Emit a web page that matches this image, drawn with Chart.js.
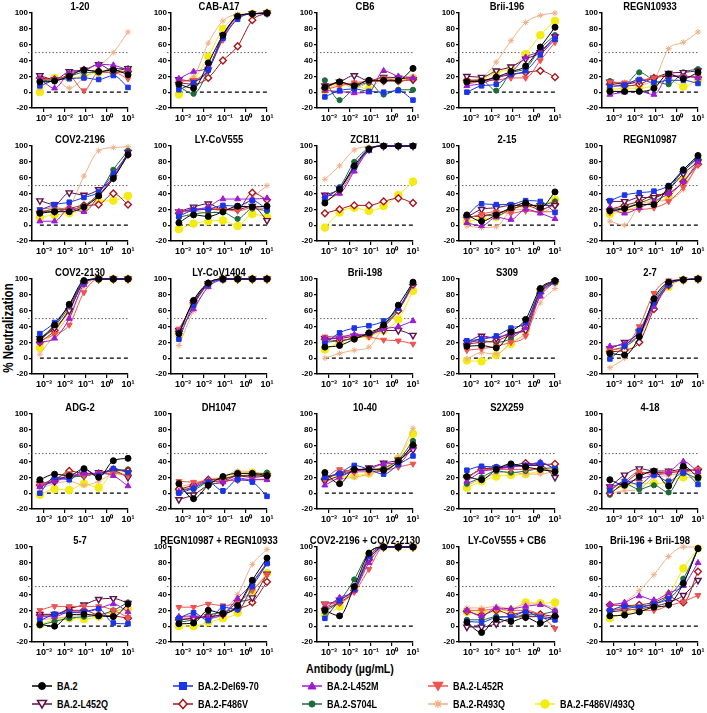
<!DOCTYPE html>
<html>
<head>
<meta charset="utf-8">
<script src="https://cdn.jsdelivr.net/npm/chart.js@4.4.1/dist/chart.umd.min.js"></script>
<style>
    body { margin: 0; background: #fff; }
    #figure { position: relative; width: 707px; height: 713px; overflow: hidden; background: #fff;
              font-family: 'Liberation Sans', Arial, sans-serif; font-weight: bold; color: #000; }
    .panel { position: absolute; width: 150px; height: 127px; }
    #ytitle { position: absolute; left: 8px; top: 328px; transform: translate(-50%, -50%) rotate(-90deg) scaleX(0.82);
              font-size: 14px; line-height: 14px; white-space: nowrap; }
    #xtitle { position: absolute; left: 350px; top: 668px; transform: translate(-50%, -50%) scaleX(0.82); font-size: 13px; white-space: nowrap; }
    .item { position: absolute; display: flex; align-items: center; white-space: nowrap; transform: translateY(-50%); }
    .item span { display: inline-block; font-size: 11px; transform: scaleX(0.82); transform-origin: left center; }
    .item svg { margin-right: 5px; }
</style>
</head>
<body>
<div id="figure">
    <div id="ytitle">% Neutralization</div>
    <div id="xtitle">Antibody (µg/mL)</div>
</div>
<script>
// Antibody concentrations (µg/mL), 5-fold dilutions
const concentrations = [0.00064, 0.0032, 0.016, 0.08, 0.4, 2, 10];
const xTickValues = [0.001, 0.01, 0.1, 1, 10];
const xTickLabels = ['10⁻³', '10⁻²', '10⁻¹', '10⁰', '10¹'];

const variantNames = ['BA.2', 'BA.2-Del69-70', 'BA.2-L452M', 'BA.2-L452R', 'BA.2-L452Q',
    'BA.2-F486V', 'BA.2-S704L', 'BA.2-R493Q', 'BA.2-F486V/493Q'];

const antibodyNames = ['1-20', 'CAB-A17', 'CB6', 'Brii-196', 'REGN10933',
    'COV2-2196', 'LY-CoV555', 'ZCB11', '2-15', 'REGN10987',
    'COV2-2130', 'LY-CoV1404', 'Brii-198', 'S309', '2-7',
    'ADG-2', 'DH1047', '10-40', 'S2X259', '4-18',
    '5-7', 'REGN10987 + REGN10933', 'COV2-2196 + COV2-2130', 'LY-CoV555 + CB6', 'Brii-196 + Brii-198'];

// % neutralization, one row per variant (same order as variantNames)
const ab1_20 = [
    [13, 14, 20, 28, 26, 28, 22], [8, 15, 17, 18, 16, 21, 6], [17, 5, 24, 27, 35, 34, 28],
    [16, 16, 20, 2, 25, 25, 17], [21, 16, 26, 28, 35, 27, 30], [18, 16, 22, 28, 26, 25, 26],
    [14, 16, 20, 25, 25, 30, 30], [5, 17, 5, 18, 32, 50, 76], [0, 18, 18, 20, 25, 25, 28]];
const abCabA17 = [
    [10, 5, 37, 72, 96, 99, 100], [3, 12, 28, 68, 92, 99, 99], [17, 26, 32, 70, 95, 99, 100],
    [14, 15, 30, 66, 94, 99, 100], [16, 14, 28, 72, 95, 99, 100], [12, 10, 18, 40, 58, 91, 100],
    [7, -2, 28, 72, 95, 99, 100], [13, 20, 62, 90, 98, 99, 100], [-3, 15, 45, 80, 96, 99, 100]];
const abCb6 = [
    [6, 13, 8, 15, 15, 15, 30], [-6, 2, 4, 1, 0, 2, -10], [2, 1, -1, 0, 27, 20, 18],
    [3, 8, 12, 14, 18, 14, 17], [8, 13, 21, 14, 19, 18, 16], [5, 12, 10, 14, 14, 14, 16],
    [15, -10, 5, 12, -3, 3, 3], [10, 12, 5, 12, 15, 19, 20], [2, 10, 8, 4, 17, 15, 18]];
const abBrii196 = [
    [13, 14, 19, 26, 33, 57, 82], [0, 8, 10, 22, 27, 47, 67], [8, 11, 18, 25, 44, 52, 70],
    [10, 14, 15, 18, 18, 40, 63], [20, 19, 27, 32, 42, 50, 70], [15, 15, 19, 22, 25, 27, 19],
    [12, 15, 2, 24, 30, 55, 72], [15, 18, 38, 65, 88, 97, 100], [14, 16, 25, 30, 48, 72, 90]];
const abRegn10933 = [
    [1, 1, 1, 5, 23, 17, 25], [7, 9, 16, 12, 15, 15, 11], [-3, 0, 1, -3, 20, 20, 18],
    [13, 12, 15, 18, 22, 20, 20], [13, 10, 14, 18, 24, 25, 27], [10, 8, 10, 18, 20, 20, 19],
    [14, 10, 25, 15, 10, 25, 29], [10, 12, 10, 16, 55, 63, 76], [3, 5, 5, 8, 16, 7, 15]];
const abCov2196 = [
    [15, 17, 17, 23, 37, 59, 89], [19, 26, 29, 35, 42, 65, 90], [5, 5, 21, 17, 37, 62, 90],
    [20, 22, 20, 24, 38, 60, 88], [31, 26, 41, 38, 45, 60, 92], [17, 17, 21, 25, 26, 40, 26],
    [16, 20, 20, 25, 40, 70, 94], [18, 20, 25, 62, 94, 98, 99], [10, 13, 15, 20, 30, 31, 37]];
const abLyCov555 = [
    [3, 13, 11, 17, 24, 23, 24], [11, 19, 20, 25, 24, 31, 20], [17, 20, 23, 33, 33, 33, 34],
    [17, 18, 22, 20, 18, 22, 21], [17, 23, 27, 20, 20, 24, 6], [15, 20, 20, 20, 20, 41, 32],
    [10, 14, 16, 16, 8, 21, 18], [16, 18, 15, 20, 20, 35, 50], [-5, 2, 5, 6, -1, 14, 10]];
const abZcb11 = [
    [28, 45, 75, 96, 100, 100, 100], [34, 47, 73, 95, 100, 100, 100], [37, 40, 68, 94, 100, 100, 100],
    [30, 42, 70, 95, 100, 100, 100], [38, 46, 72, 96, 100, 100, 100], [15, 20, 25, 25, 30, 34, 28],
    [35, 48, 80, 97, 100, 100, 100], [58, 75, 95, 99, 100, 100, 100], [-3, 16, 22, 18, 24, 38, 55]];
const ab2_15 = [
    [13, 5, 13, 22, 28, 22, 42], [12, 27, 26, 26, 31, 30, 16], [3, -1, 10, 7, 20, 15, 8],
    [8, 14, 17, 15, 18, 17, 17], [10, 20, 22, 25, 25, 25, 25], [10, 12, 15, 20, 25, 20, 26],
    [10, 12, 12, 20, 25, 25, 30], [-1, -3, -2, 18, 20, 15, 26], [4, 8, 10, 20, 24, 25, 32]];
const abRegn10987 = [
    [18, 21, 26, 26, 49, 70, 88], [31, 38, 41, 43, 50, 68, 85], [22, 15, 22, 30, 40, 55, 80],
    [16, 20, 20, 22, 30, 48, 76], [30, 30, 35, 35, 45, 65, 80], [20, 25, 30, 38, 40, 55, 77],
    [20, 22, 28, 35, 45, 70, 85], [5, 0, 25, 30, 32, 45, 78], [14, 18, 24, 30, 35, 58, 83]];
const abCov2130 = [
    [24, 42, 68, 98, 100, 100, 100], [31, 45, 67, 96, 100, 100, 100], [20, 25, 50, 93, 100, 100, 100],
    [22, 30, 42, 83, 100, 100, 100], [25, 38, 60, 95, 100, 100, 100], [20, 35, 62, 95, 100, 100, 100],
    [22, 40, 65, 97, 100, 100, 100], [5, 30, 55, 90, 100, 100, 100], [13, 33, 60, 96, 100, 100, 100]];
const abLyCov1404 = [
    [31, 73, 95, 100, 100, 100, 100], [24, 67, 93, 99, 100, 100, 100], [33, 62, 90, 99, 100, 100, 100],
    [37, 68, 93, 100, 100, 100, 100], [35, 70, 94, 100, 100, 100, 100], [34, 70, 94, 100, 100, 100, 100],
    [32, 72, 95, 100, 100, 100, 100], [16, 60, 90, 99, 100, 100, 100], [30, 68, 93, 100, 100, 100, 100]];
const abBrii198 = [
    [14, 16, 24, 32, 42, 67, 96], [18, 32, 38, 41, 47, 63, 95], [25, 26, 30, 30, 37, 40, 47],
    [27, 28, 28, 27, 23, 22, 18], [25, 25, 28, 30, 35, 35, 29], [24, 22, 26, 30, 40, 60, 93],
    [20, 22, 25, 30, 42, 62, 93], [0, 6, 10, 14, 40, 60, 90], [11, 20, 25, 28, 35, 49, 85]];
const abS309 = [
    [15, 16, 13, 33, 49, 88, 98], [22, 24, 28, 38, 45, 84, 96], [18, 25, 27, 30, 38, 78, 97],
    [10, 12, 15, 20, 28, 80, 96], [20, 28, 25, 32, 35, 85, 97], [18, 20, 22, 30, 40, 82, 97],
    [20, 22, 20, 25, 42, 86, 97], [-1, 7, 5, 20, 32, 70, 88], [-3, -4, 4, 18, 35, 85, 96]];
const ab2_7 = [
    [6, 4, 27, 75, 96, 99, 100], [-1, 15, 35, 70, 93, 99, 100], [15, 18, 30, 65, 93, 99, 100],
    [10, 15, 40, 82, 98, 99, 100], [12, 20, 33, 68, 94, 99, 100], [8, 10, 20, 62, 92, 99, 100],
    [10, 15, 30, 72, 95, 99, 100], [-12, 0, 25, 65, 90, 99, 100], [8, 12, 35, 70, 90, 99, 100]];
const abAdg2 = [
    [17, 24, 22, 31, 20, 41, 44], [0, 20, 17, 30, 22, 31, 26], [8, 15, 20, 25, 25, 22, 9],
    [10, 18, 25, 22, 25, 25, 22], [12, 15, 22, 22, 26, 28, 20], [10, 15, 28, 25, 25, 30, 28],
    [10, 18, 20, 22, 25, 28, 30], [6, 12, 15, 10, 15, 25, 28], [-2, 5, 4, 12, 7, 25, 25]];
const abDh1047 = [
    [12, -7, 10, 21, 25, 25, 22], [0, 6, 14, 3, 17, 14, -4], [2, 8, 15, 14, 19, 17, 17],
    [15, 14, 14, 16, 16, 17, 18], [-8, -2, 10, 14, 22, 20, 22], [5, 10, 17, 18, 22, 22, 22],
    [5, 5, 15, 18, 22, 23, 26], [8, 12, 18, 20, 28, 27, 24], [3, 8, 12, 18, 25, 26, 24]];
const ab10_40 = [
    [26, 12, 30, 30, 29, 40, 61], [20, 25, 35, 30, 24, 36, 47], [10, 20, 28, 30, 37, 38, 58],
    [18, 30, 27, 27, 28, 33, 37], [15, 22, 28, 32, 38, 42, 55], [18, 25, 30, 30, 30, 40, 60],
    [20, 25, 28, 30, 32, 42, 66], [15, 18, 20, 24, 30, 45, 82], [18, 20, 22, 25, 32, 44, 75]];
const abS2x259 = [
    [21, 17, 30, 37, 33, 30, 27], [29, 34, 33, 35, 35, 38, 31], [15, 27, 30, 33, 35, 39, 30],
    [18, 30, 30, 30, 30, 30, 28], [20, 30, 32, 33, 35, 35, 20], [20, 30, 32, 34, 38, 36, 37],
    [12, 20, 28, 26, 28, 31, 32], [10, 18, 25, 27, 24, 24, 28], [7, 15, 21, 23, 24, 28, 30]];
const ab4_18 = [
    [17, 10, 21, 28, 9, 34, 20], [3, 15, 11, 23, 15, 26, 11], [8, 13, 18, 23, 26, 40, 27],
    [5, 15, 27, 23, 27, 27, 30], [8, 23, 31, 28, 28, 30, 28], [0, 12, 25, 26, 26, 28, 30],
    [-2, 12, 5, 10, 1, 25, 18], [0, 3, 5, 20, 22, 26, 24], [5, 10, 12, 12, 14, 20, 20]];
const ab5_7 = [
    [2, 0, 14, 15, 13, 12, 28], [7, 15, 17, 18, 22, 4, 3], [12, 12, 18, 18, 22, 28, 18],
    [20, 25, 25, 25, 25, 20, 11], [15, 15, 22, 27, 34, 35, 29], [14, 14, 20, 20, 14, 13, 10],
    [1, 6, 10, 12, 14, 20, 30], [8, 10, 12, 14, 15, 18, 25], [2, 8, 10, 9, 12, 18, 22]];
const abRegnCombo = [
    [3, 4, 20, 16, 26, 58, 86], [10, 17, 7, 24, 21, 50, 79], [12, 13, 10, 15, 35, 54, 80],
    [24, 24, 28, 26, 30, 45, 65], [8, 10, 12, 15, 30, 36, 66], [8, 10, 12, 15, 22, 30, 56],
    [5, 8, 14, 18, 25, 55, 80], [10, 12, 15, 20, 40, 78, 97], [0, 0, 5, 10, 17, 44, 67]];
const abCov2Combo = [
    [20, 13, 50, 92, 100, 100, 100], [10, 32, 47, 88, 100, 100, 100], [22, 36, 45, 80, 100, 100, 100],
    [28, 30, 43, 72, 100, 100, 100], [28, 33, 48, 85, 100, 100, 100], [22, 30, 45, 84, 100, 100, 100],
    [18, 32, 59, 93, 100, 100, 100], [25, 30, 48, 90, 100, 100, 100], [15, 25, 48, 88, 100, 100, 100]];
const abLyCb6Combo = [
    [5, -8, 9, 6, 11, 4, 13], [6, 5, 11, 12, 18, 11, 8], [20, 13, 23, 22, 25, 27, 19],
    [20, 20, 22, 20, 20, 14, -3], [-1, -1, 3, 10, 12, 12, 10], [19, 14, 20, 15, 18, 15, 12],
    [8, 8, 12, 12, 14, 15, 19], [23, 23, 25, 22, 28, 28, 22], [18, 18, 20, 20, 30, 29, 30]];
const abBriiCombo = [
    [13, 14, 18, 24, 27, 54, 98], [20, 25, 24, 28, 35, 55, 98], [27, 30, 38, 33, 42, 51, 80],
    [20, 22, 20, 20, 26, 31, 39], [18, 20, 22, 25, 30, 39, 58], [27, 26, 27, 30, 37, 30, 69],
    [20, 22, 25, 28, 38, 60, 98], [15, 30, 45, 65, 88, 100, 100], [10, 16, 20, 25, 40, 73, 98]];

const panelData = [ab1_20, abCabA17, abCb6, abBrii196, abRegn10933,
    abCov2196, abLyCov555, abZcb11, ab2_15, abRegn10987,
    abCov2130, abLyCov1404, abBrii198, abS309, ab2_7,
    abAdg2, abDh1047, ab10_40, abS2x259, ab4_18,
    ab5_7, abRegnCombo, abCov2Combo, abLyCb6Combo, abBriiCombo];

// Marker look for each variant
const variantStyles = [
    { color: '#000000', shape: 'circle', r: 3 },
    { color: '#1a35e8', shape: 'rect', r: 3.2 },
    { color: '#9d1bd3', shape: 'triangle', r: 3.4 },
    { color: '#ef5350', shape: 'triangle', rot: 180, r: 3.4 },
    { color: '#5e1048', shape: 'triangle', rot: 180, r: 3.6, hollow: true },
    { color: '#a8161b', shape: 'rectRot', r: 3.4, hollow: true },
    { color: '#1e6b3c', shape: 'circle', r: 2.6 },
    { color: '#f0b088', shape: 'star', r: 3 },
    { color: '#f3ec12', shape: 'circle', r: 3.8 }
];

const FONT = "'Liberation Sans', Arial, sans-serif";
const axisX = [32, 171, 317, 459, 602];
const rowTop = [13, 146, 279, 414, 547];

// Dashed line at 0% and dotted line at 50%
const refLines = {
    id: 'refLines',
    beforeDatasetsDraw(chart) {
        const { ctx, chartArea, scales: { x, y } } = chart;
        ctx.save();
        ctx.strokeStyle = '#000';
        ctx.lineWidth = 1.2;
        ctx.setLineDash([4, 3]);
        const y0 = y.getPixelForValue(0);
        ctx.beginPath();
        ctx.moveTo(x.getPixelForValue(concentrations[0]), y0);
        ctx.lineTo(x.getPixelForValue(10), y0);
        ctx.stroke();
        ctx.strokeStyle = '#666';
        ctx.lineWidth = 1;
        ctx.setLineDash([1.5, 2]);
        const y50 = y.getPixelForValue(50);
        ctx.beginPath();
        ctx.moveTo(chartArea.left - 4, y50);
        ctx.lineTo(chartArea.right, y50);
        ctx.stroke();
        ctx.restore();
    }
};

// Panel title, centred over the plot area, slightly condensed like the original
const panelTitle = {
    id: 'panelTitle',
    afterDraw(chart, args, opts) {
        const { ctx, chartArea } = chart;
        ctx.save();
        ctx.font = 'bold 11.5px ' + FONT;
        ctx.fillStyle = '#000';
        ctx.textAlign = 'center';
        ctx.textBaseline = 'alphabetic';
        ctx.translate((chartArea.left + chartArea.right) / 2, chartArea.top - 3);
        ctx.scale(0.82, 1);
        ctx.fillText(opts.text, 0, 0);
        ctx.restore();
    }
};

const fig = document.getElementById('figure');

panelData.forEach((rows, k) => {
    const row = Math.floor(k / 5), col = k % 5;
    const box = document.createElement('div');
    box.className = 'panel';
    box.style.left = (axisX[col] - 32) + 'px';
    box.style.top = (rowTop[row] - 14) + 'px';
    const canvas = document.createElement('canvas');
    canvas.width = 150;
    canvas.height = 127;
    box.appendChild(canvas);
    fig.appendChild(box);

    const datasets = rows.map((vals, i) => {
        const s = variantStyles[i];
        return {
            label: variantNames[i],
            data: concentrations.map((c, j) => ({ x: c, y: vals[j] })),
            borderColor: s.color,
            backgroundColor: s.color,
            borderWidth: 1,
            cubicInterpolationMode: 'monotone',
            pointStyle: s.shape,
            pointRotation: s.rot || 0,
            pointRadius: s.r,
            pointBorderWidth: s.hollow ? 1.4 : 1,
            pointBorderColor: s.color,
            pointBackgroundColor: s.hollow ? '#ffffff' : s.color,
            clip: 6
        };
    });

    new Chart(canvas, {
        type: 'line',
        data: { datasets },
        options: {
            responsive: false,
            animation: false,
            devicePixelRatio: 1,
            layout: { padding: { left: 0, right: 22, top: 14, bottom: 0 } },
            plugins: {
                legend: { display: false },
                tooltip: { enabled: false },
                panelTitle: { text: antibodyNames[k] }
            },
            scales: {
                x: {
                    type: 'logarithmic',
                    min: 0.00027,
                    max: 10,
                    afterBuildTicks: scale => { scale.ticks = xTickValues.map(v => ({ value: v })); },
                    afterFit: scale => { scale.height = 18; },
                    ticks: {
                        autoSkip: false,
                        maxRotation: 0,
                        padding: 1,
                        color: '#000',
                        font: { family: FONT, size: 9, weight: 'bold' },
                        callback: value => xTickLabels[xTickValues.indexOf(value)]
                    },
                    grid: { drawOnChartArea: false, tickLength: 4, color: '#000', lineWidth: 1.2 },
                    border: { color: '#000', width: 1.5 }
                },
                y: {
                    min: -20,
                    max: 100,
                    afterFit: scale => { scale.width = 32; },
                    ticks: {
                        stepSize: 20,
                        padding: 1,
                        color: '#000',
                        font: { family: FONT, size: 8, weight: 'bold' }
                    },
                    grid: { drawOnChartArea: false, tickLength: 3, color: '#000', lineWidth: 1.2 },
                    border: { color: '#000', width: 1.5 }
                }
            }
        },
        plugins: [refLines, panelTitle]
    });
});

// Legend (HTML text with small SVG markers)
function markerSvg(s) {
    const c = s.color, fill = s.hollow ? '#fff' : c, cx = 10, cy = 6;
    let m;
    if (s.shape === 'circle') m = `<circle cx="${cx}" cy="${cy}" r="${s.r + 0.5}" fill="${fill}" stroke="${c}"/>`;
    else if (s.shape === 'rect') m = `<rect x="${cx - 3.5}" y="${cy - 3.5}" width="7" height="7" fill="${fill}" stroke="${c}"/>`;
    else if (s.shape === 'triangle' && !s.rot) m = `<polygon points="${cx},${cy - 4} ${cx + 4},${cy + 3} ${cx - 4},${cy + 3}" fill="${fill}" stroke="${c}"/>`;
    else if (s.shape === 'triangle') m = `<polygon points="${cx},${cy + 4} ${cx + 4.5},${cy - 3.5} ${cx - 4.5},${cy - 3.5}" fill="${fill}" stroke="${c}" stroke-width="1.5"/>`;
    else if (s.shape === 'rectRot') m = `<polygon points="${cx},${cy - 4.5} ${cx + 4},${cy} ${cx},${cy + 4.5} ${cx - 4},${cy}" fill="${fill}" stroke="${c}" stroke-width="1.5"/>`;
    else m = `<path d="M${cx - 4} ${cy}H${cx + 4}M${cx} ${cy - 4}V${cy + 4}M${cx - 3} ${cy - 3}L${cx + 3} ${cy + 3}M${cx - 3} ${cy + 3}L${cx + 3} ${cy - 3}" stroke="${c}" stroke-width="1.3"/>`;
    return `<svg width="20" height="12"><line x1="0" y1="${cy}" x2="20" y2="${cy}" stroke="${c}" stroke-width="1.5"/>${m}</svg>`;
}

const legendLeft = [32, 173, 302, 428, 535];
const legendTop = [686, 704];
const legendSlots = [[0, 0], [0, 1], [0, 2], [0, 3], [1, 0], [1, 1], [1, 2], [1, 3], [1, 4]];
variantNames.forEach((name, i) => {
    const [r, c] = legendSlots[i];
    const item = document.createElement('div');
    item.className = 'item';
    item.style.left = legendLeft[c] + 'px';
    item.style.top = legendTop[r] + 'px';
    item.innerHTML = markerSvg(variantStyles[i]) + '<span>' + name + '</span>';
    fig.appendChild(item);
});
</script>
</body>
</html>
